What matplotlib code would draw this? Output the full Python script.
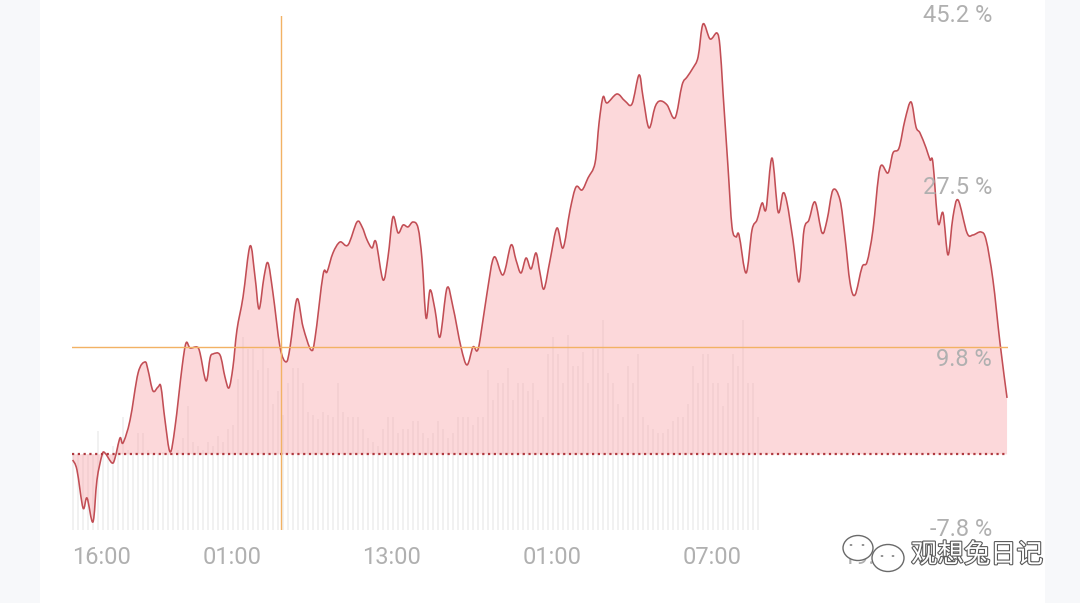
import matplotlib
matplotlib.use("Agg")
import matplotlib.pyplot as plt
import matplotlib.patches as mpatches
import matplotlib.patheffects as pe
import matplotlib.transforms as mtransforms
from matplotlib.path import Path
import numpy as np

# time in label slots (one slot between two time labels), change in %
t = [0.004, 0.031, 0.069, 0.094, 0.131, 0.156, 0.188, 0.206, 0.25, 0.269,
     0.30, 0.319, 0.363, 0.413, 0.456, 0.475, 0.506, 0.538, 0.556, 0.581,
     0.613, 0.644, 0.688, 0.713, 0.738, 0.781, 0.80, 0.838, 0.863, 0.881,
     0.925, 0.956, 0.981, 1.006, 1.031, 1.069, 1.113, 1.144, 1.169, 1.20,
     1.225, 1.256, 1.30, 1.338, 1.363, 1.406, 1.444, 1.494, 1.519, 1.569,
     1.594, 1.631, 1.675, 1.725, 1.781, 1.813, 1.844, 1.875, 1.90, 1.944,
     1.975, 2.006, 2.038, 2.069, 2.10, 2.131, 2.163, 2.188, 2.213, 2.238,
     2.269, 2.30, 2.344, 2.381, 2.431, 2.469, 2.506, 2.531, 2.55, 2.594,
     2.638, 2.694, 2.744, 2.775, 2.806, 2.838, 2.869, 2.90, 2.925, 2.95,
     2.988, 3.031, 3.069, 3.113, 3.15, 3.188, 3.225, 3.269, 3.294, 3.319,
     3.344, 3.406, 3.456, 3.50, 3.544, 3.569, 3.606, 3.644, 3.675, 3.719,
     3.769, 3.813, 3.844, 3.881, 3.913, 3.944, 3.988, 4.031, 4.05, 4.069,
     4.10, 4.125, 4.15, 4.169, 4.213, 4.25, 4.281, 4.313, 4.338, 4.375,
     4.413, 4.444, 4.469, 4.506, 4.544, 4.575, 4.606, 4.644, 4.688, 4.719,
     4.756, 4.80, 4.831, 4.863, 4.894, 4.938, 4.969, 5.006, 5.05, 5.10,
     5.131, 5.169, 5.206, 5.244, 5.275, 5.30, 5.338, 5.363, 5.381, 5.413,
     5.444, 5.475, 5.506, 5.538, 5.594, 5.631, 5.681, 5.713, 5.756, 5.80,
     5.844]
pct = [-0.58, -1.61, -5.53, -4.50, -6.97, -2.64, -0.06, 0.14, -0.89, -0.37,
       1.69, 1.18, 3.55, 8.39, 9.53, 8.70, 6.54, 6.95, 6.95, 3.55,
       0.25, 2.83, 9.01, 11.49, 10.97, 11.07, 10.46, 7.57, 9.94, 10.35,
       10.25, 7.98, 6.85, 9.01, 12.83, 16.23, 21.49, 18.29, 14.99, 18.29,
       19.74, 16.64, 11.07, 9.53, 11.07, 16.02, 13.14, 10.76, 12.00, 18.50,
       18.81, 20.77, 21.90, 21.59, 23.96, 23.45, 22.11, 21.28, 21.90, 17.98,
       20.35, 24.48, 22.83, 23.65, 23.45, 23.96, 23.34, 20.04, 14.06, 16.95,
       14.89, 12.10, 17.16, 15.20, 11.07, 9.22, 11.07, 10.66, 11.80, 16.64,
       20.35, 18.50, 21.59, 20.04, 18.70, 20.25, 19.12, 20.77, 18.70, 17.05,
       20.04, 23.34, 21.28, 25.20, 27.57, 27.26, 28.50, 30.05, 34.17, 36.85,
       36.23, 37.16, 36.44, 36.13, 39.12, 36.85, 33.66, 35.82, 36.44, 36.03,
       34.69, 38.09, 38.91, 39.84, 40.98, 44.38, 42.83, 43.45, 42.01, 37.26,
       29.63, 23.45, 22.42, 22.62, 18.70, 23.14, 24.17, 25.92, 25.30, 30.56,
       24.99, 26.95, 25.92, 22.11, 17.78, 23.14, 24.17, 26.02, 22.83, 24.17,
       27.26, 26.23, 22.42, 17.67, 16.44, 19.32, 19.84, 23.14, 29.53, 29.02,
       31.08, 31.59, 34.48, 36.34, 33.76, 33.14, 31.59, 30.36, 30.05, 23.86,
       24.89, 20.56, 24.48, 26.23, 22.83, 22.62, 22.93, 22.11, 17.98, 11.49,
       5.82]

# volume bars, one every 1/32 slot
vol = [36, 36, 36, 36, 36, 47, 36, 36, 40, 41, 54, 38, 36, 46, 46, 38, 36, 36,
       37, 36, 36, 38, 44, 59, 42, 40, 38, 42, 40, 45, 42, 48, 50, 72, 92, 86,
       86, 76, 86, 77, 60, 66, 55, 70, 77, 77, 70, 56, 55, 53, 56, 55, 54, 70,
       56, 54, 54, 54, 48, 44, 42, 40, 48, 54, 54, 46, 48, 48, 52, 52, 46, 44,
       46, 52, 48, 44, 46, 54, 54, 54, 50, 54, 54, 76, 62, 70, 70, 77, 62, 70,
       70, 66, 70, 62, 54, 84, 92, 84, 70, 93, 78, 78, 85, 70, 86, 86, 100, 75,
       70, 60, 54, 78, 70, 84, 54, 50, 48, 46, 46, 48, 52, 54, 54, 60, 78, 70,
       84, 84, 70, 70, 59, 70, 84, 78, 100, 70, 70, 54]
vol_t = 0.006 + np.arange(len(vol)) / 32

x_labels = ["16:00", "01:00", "13:00", "01:00", "07:00", "19:00"]
y_marks = [45.2, 27.5, 9.8, -7.8]
cross_t = 1.306
cross_pct = 11.07


def smooth_path(xs, ys):
    # Catmull-Rom through the points, as cubic Bezier segments
    p = np.column_stack([xs, ys])
    pad = np.vstack([p[0], p, p[-1]])
    verts = [p[0]]
    codes = [Path.MOVETO]
    for i in range(len(p) - 1):
        p0, p1, p2, p3 = pad[i], pad[i + 1], pad[i + 2], pad[i + 3]
        verts += [p1 + (p2 - p0) / 6, p2 - (p3 - p1) / 6, p2]
        codes += [Path.CURVE4] * 3
    return verts, codes


W, H = 1080, 603
fig = plt.figure(figsize=(W / 100, H / 100), dpi=100)
fig.patch.set_facecolor("#f7f8fa")
fig.add_artist(mpatches.Rectangle((40 / W, 0), 1005 / W, 1, transform=fig.transFigure,
                                  facecolor="white", edgecolor="none", zorder=0))

rect = [72 / W, 73 / H, 936 / W, 514 / H]
axv = fig.add_axes(rect, zorder=1)
ax = fig.add_axes(rect, zorder=2)
for a in (ax, axv):
    a.set_facecolor("none")
    a.set_xlim(0, 5.85)
    for s in a.spines.values():
        s.set_visible(False)
    a.set_xticks([])
    a.set_yticks([])

axv.set_ylim(0, 244.8)
axv.bar(vol_t, vol, width=0.008, color="#9a9a9a", alpha=0.13, linewidth=0)

ax.set_ylim(-7.8, 45.2)
verts, codes = smooth_path(t, pct)
fill_verts = verts + [(t[-1], 0), (t[0], 0), verts[0]]
fill_codes = codes + [Path.LINETO, Path.LINETO, Path.CLOSEPOLY]
ax.add_patch(mpatches.PathPatch(Path(fill_verts, fill_codes), facecolor="#f9a9ae",
                                alpha=0.45, edgecolor="none"))
ax.add_patch(mpatches.PathPatch(Path(verts, codes), facecolor="none",
                                edgecolor="#c24e55", lw=1.15, joinstyle="round"))
ax.axhline(0, color="#b0393f", lw=1.6, linestyle=(0, (1, 1.6)), dash_capstyle="butt")

ax.axvline(cross_t, color="#f2b264", lw=1)
ax.axhline(cross_pct, color="#f2b264", lw=1)

ytrans = mtransforms.blended_transform_factory(ax.transAxes, ax.transData)
for v in y_marks:
    ax.text(0.983, v, f"{v} %", transform=ytrans, ha="right", va="center",
            fontsize=17, color="#b0b0b0", family="Roboto", zorder=5)

xtrans = mtransforms.blended_transform_factory(ax.transData, ax.transAxes)
for i, lab in enumerate(x_labels):
    ax.text(i, -0.053, lab, transform=xtrans, ha="left" if i == 0 else "center",
            va="center", fontsize=17, color="#b0b0b0", family="Roboto", clip_on=False)

# watermark
for (cx, cy, w, h) in [(858, 548, 30, 25), (888, 558, 32, 27)]:
    fig.add_artist(mpatches.Ellipse((cx / W, 1 - cy / H), w / W, h / H, transform=fig.transFigure,
                                    facecolor="white", edgecolor="#6a6a6a", lw=1.0, zorder=10))
for (dx, dy) in [(851, 545), (863, 545), (882, 556), (893, 556)]:
    fig.add_artist(mpatches.Circle((dx / W, 1 - dy / H), 1.4 / W, transform=fig.transFigure,
                                   facecolor="#6a6a6a", edgecolor="none", zorder=11))
fig.text(977 / W, 1 - 555 / H, "观想兔日记", ha="center", va="center", fontsize=19,
         color="white", family=["Noto Sans CJK SC", "DejaVu Sans"], zorder=12,
         path_effects=[pe.withStroke(linewidth=1.6, foreground="#5a5a5a")])

fig.savefig("out.png", dpi=100, facecolor=fig.get_facecolor())
